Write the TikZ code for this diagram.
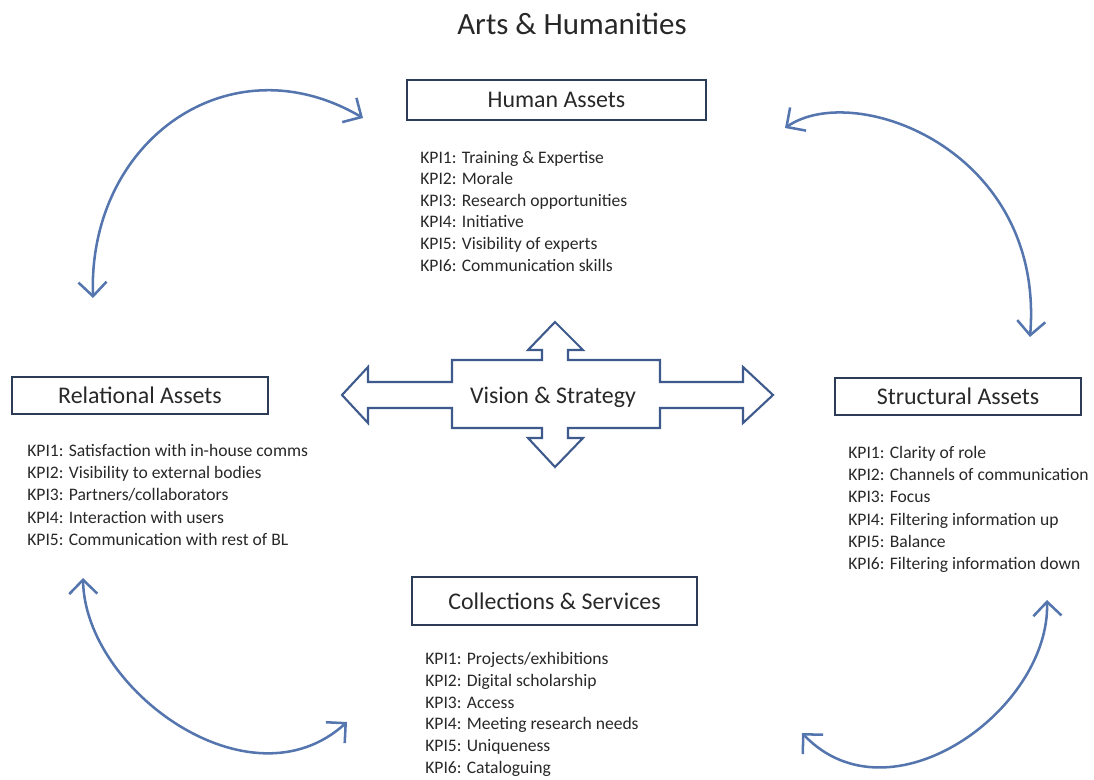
\documentclass[tikz,border=0pt]{standalone}
\usepackage{fontspec}
\setmainfont{Carlito}
\usetikzlibrary{arrows.meta}
\definecolor{boxline}{RGB}{44,60,86}
\definecolor{curvecol}{RGB}{84,117,173}
\definecolor{visioncol}{RGB}{62,90,140}
\definecolor{txt}{RGB}{40,40,40}

\tikzset{
  asset/.style={draw=boxline, line width=1.8pt, inner sep=0pt, text=txt, font=\fontsize{17}{20}\selectfont},
  kpi/.style={anchor=north west, inner sep=0pt, align=left, text=txt, font=\fontsize{12.5}{15.8}\selectfont},
  loopline/.style={draw=curvecol, line width=1.8pt, {Straight Barb[length=10pt,width=20pt]}-{Straight Barb[length=10pt,width=20pt]}}
}

\begin{document}
\begin{tikzpicture}[x=0.025cm,y=-0.025cm]
  \useasboundingbox (0,0) rectangle (1094,780);
  \node[text=txt, font=\fontsize{22}{25}\selectfont] (title) at (572,24) {Arts \& Humanities};

  \node[asset, minimum width=7.475cm, minimum height=1cm] (HA) at (556.5,100) {Human Assets};
  \node[asset, minimum width=6.4cm, minimum height=0.925cm] (RA) at (140,395.5) {Relational Assets};
  \node[asset, minimum width=6.15cm, minimum height=0.925cm] (SA) at (958,396.5) {Structural Assets};
  \node[asset, minimum width=7.125cm, minimum height=1.2cm] (CS) at (554.5,601) {Collections \& Services};

  \node[kpi, font=\fontsize{12.5}{15.3}\selectfont] (HAkpi) at (420,151) {KPI1: Training \& Expertise\\KPI2: Morale\\KPI3: Research opportunities\\KPI4: Initiative\\KPI5: Visibility of experts\\KPI6: Communication skills};
  \node[kpi] (RAkpi) at (27,444) {KPI1: Satisfaction with in-house comms\\KPI2: Visibility to external bodies\\KPI3: Partners/collaborators\\KPI4: Interaction with users\\KPI5: Communication with rest of BL};
  \node[kpi] (SAkpi) at (848,446) {KPI1: Clarity of role\\KPI2: Channels of communication\\KPI3: Focus\\KPI4: Filtering information up\\KPI5: Balance\\KPI6: Filtering information down};
  \node[kpi, font=\fontsize{12.5}{15.5}\selectfont] (CSkpi) at (425,652) {KPI1: Projects/exhibitions\\KPI2: Digital scholarship\\KPI3: Access\\KPI4: Meeting research needs\\KPI5: Uniqueness\\KPI6: Cataloguing};

  % vision arrow
  \draw[draw=visioncol, line width=1.5pt, fill=white, line join=miter]
    (342,395) -- (368,367) -- (368,382) -- (452,382) -- (452,360) -- (542,360) -- (542,350) -- (528,350)
    -- (555,322) -- (583,350) -- (568,350) -- (568,360) -- (660,360) -- (660,382) -- (743,382) -- (743,367)
    -- (773,395) -- (743,423) -- (743,408) -- (660,408) -- (660,428) -- (568,428) -- (568,438) -- (583,438)
    -- (555,467) -- (528,438) -- (542,438) -- (542,428) -- (452,428) -- (452,408) -- (368,408) -- (368,423) -- cycle;
  \node[text=txt, font=\fontsize{17}{20}\selectfont] (VS) at (553,397) {Vision \& Strategy};

  % curved arrows
  \coordinate (tlA) at (93,298); \coordinate (tlB) at (363,118);
  \coordinate (trA) at (785,128); \coordinate (trB) at (1030,337);
  \coordinate (blA) at (83,578); \coordinate (blB) at (347,722);
  \coordinate (brA) at (1047,600); \coordinate (brB) at (802,733);
  \draw[loopline] (tlA) .. controls (88,140) and (230,40) .. (tlB);
  \draw[loopline] (trA) .. controls (855,80) and (1045,150) .. (trB);
  \draw[loopline] (blA) .. controls (85,690) and (250,810) .. (blB);
  \draw[loopline] (brA) .. controls (1050,710) and (890,825) .. (brB);
\end{tikzpicture}
\end{document}
